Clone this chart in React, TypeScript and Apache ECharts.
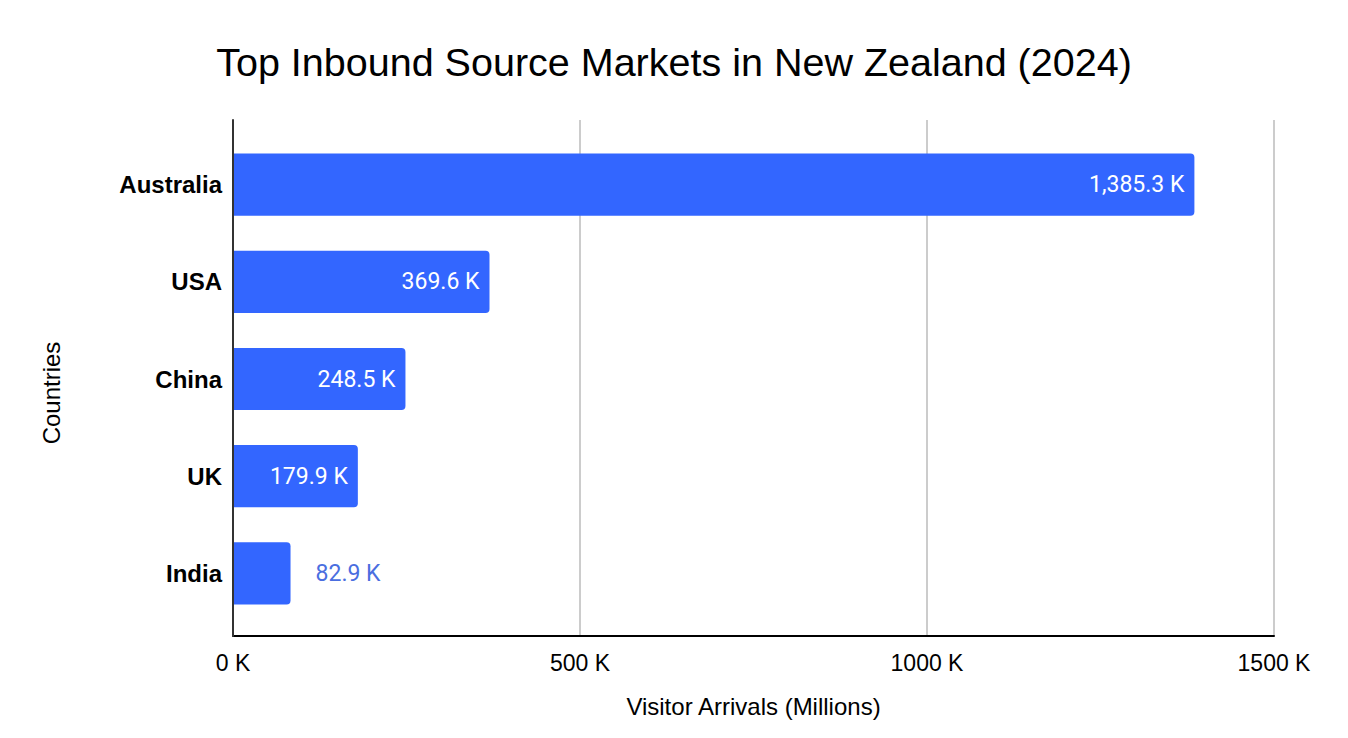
import React, { useEffect, useRef } from "react";
import * as echarts from "echarts";

const categories = ["Australia", "USA", "China", "UK", "India"];
const arrivals = [1385.3, 369.6, 248.5, 179.9, 82.9];
const xTicks = [0, 500, 1000, 1500];
const insideFlags = [true, true, true, true, false];

const FONT = "Liberation Sans, Arial, sans-serif";

export default function App() {
  const ref = useRef<HTMLDivElement>(null);
  useEffect(() => {
    if (!ref.current) return;
    const chart = echarts.init(ref.current, undefined, { renderer: "svg" });
    const fmt = (v: number) =>
      v.toLocaleString("en-US", { minimumFractionDigits: 1, maximumFractionDigits: 1 }) + " K";
    const xMin = xTicks[0];
    const xMax = xTicks[xTicks.length - 1];
    chart.setOption({
      animation: false,
      backgroundColor: "#ffffff",
      title: {
        text: "Top Inbound Source Markets in New Zealand (2024)",
        left: "center",
        top: 37,
        textStyle: { fontFamily: FONT, fontSize: 39.5, fontWeight: "normal", color: "#000000" },
      },
      graphic: [
        {
          type: "text",
          x: 51,
          y: 393,
          rotation: Math.PI / 2,
          style: {
            text: "Countries",
            fontFamily: FONT,
            fontSize: 24,
            fill: "#000000",
            align: "center",
            verticalAlign: "middle",
          },
        },
      ],
      grid: [
        { left: 233, right: 74, top: 136, bottom: 116, containLabel: false },
        { left: 233, right: 74, top: 120, bottom: 102, containLabel: false },
      ],
      xAxis: [
        {
          gridIndex: 0,
          type: "value",
          min: xMin,
          max: xMax,
          interval: 500,
          show: false,
          splitLine: { show: false },
        },
        {
          gridIndex: 1,
          type: "value",
          min: xMin,
          max: xMax,
          interval: 500,
          name: "Visitor Arrivals (Millions)",
          nameLocation: "middle",
          nameGap: 58,
          nameTextStyle: { fontFamily: FONT, fontSize: 24, color: "#000000" },
          axisLine: { show: true, lineStyle: { color: "#000000", width: 2 } },
          axisTick: { show: false },
          axisLabel: {
            formatter: (v: number) => v + " K",
            margin: 15,
            fontFamily: FONT,
            fontSize: 23,
            color: "#000000",
          },
          splitLine: { show: true, lineStyle: { color: "#cccccc", width: 2 } },
          z: 1,
        },
      ],
      yAxis: [
        {
          gridIndex: 0,
          type: "category",
          data: categories,
          inverse: true,
          axisLine: { show: false },
          axisTick: { show: false },
          axisLabel: {
            margin: 11,
            fontFamily: FONT,
            fontSize: 24,
            fontWeight: "bold",
            color: "#000000",
          },
          splitLine: { show: false },
        },
        {
          gridIndex: 1,
          type: "value",
          min: 0,
          max: 1,
          axisLine: { show: true, lineStyle: { color: "#333333", width: 2 } },
          axisTick: { show: false },
          axisLabel: { show: false },
          splitLine: { show: false },
          z: 3,
        },
      ],
      series: [
        {
          type: "bar",
          xAxisIndex: 0,
          yAxisIndex: 0,
          barCategoryGap: "36%",
          z: 2,
          data: arrivals.map((v, i) => ({
            value: v,
            label: insideFlags[i]
              ? { position: "insideRight", distance: 10, color: "#ffffff" }
              : { position: "right", distance: 25, color: "#4a6ee0" },
          })),
          itemStyle: { color: "#3366ff", borderRadius: [0, 4, 4, 0] },
          label: {
            show: true,
            formatter: (p: any) => fmt(p.value),
            fontFamily: "Roboto, sans-serif",
            fontSize: 23,
          },
        },
      ],
    });
    return () => chart.dispose();
  }, []);
  return <div ref={ref} style={{ width: 1348, height: 738, position: "absolute", left: 0, top: 0 }} />;
}
